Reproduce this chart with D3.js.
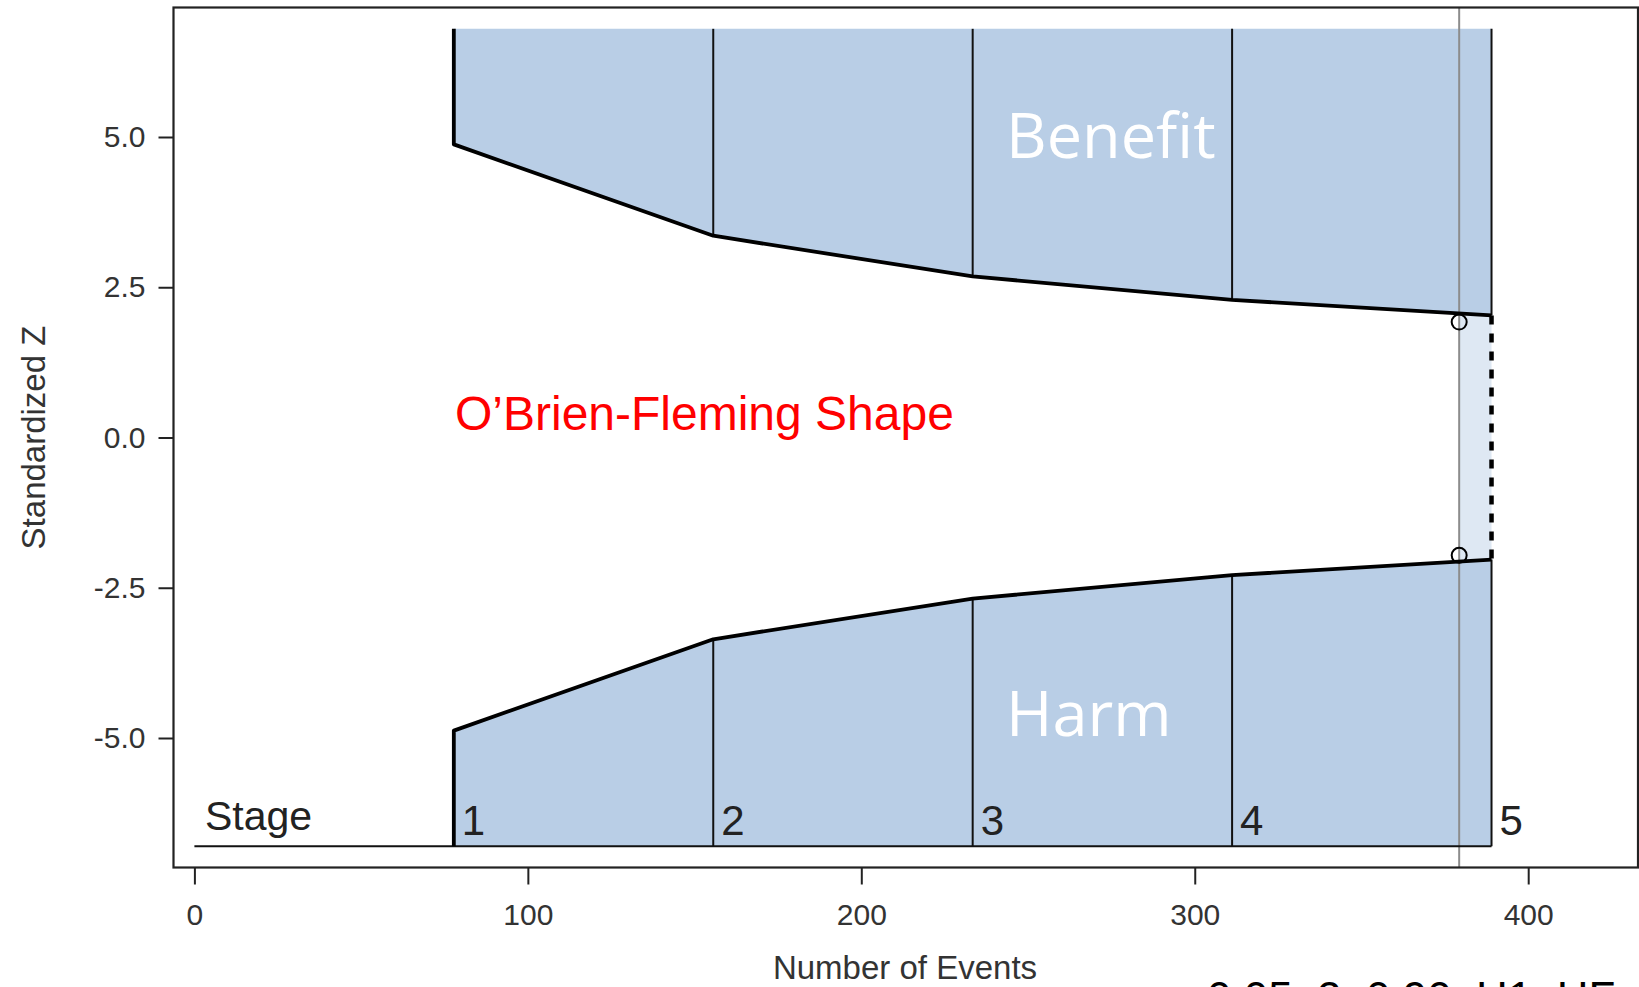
<!DOCTYPE html>
<html>
<head>
<meta charset="utf-8">
<script src="https://cdn.jsdelivr.net/npm/d3@7"></script>
<style>
    body { margin: 0; background: #fff; }
    svg { display: block; }
</style>
</head>
<body>
<div id="chart"></div>
<script>
// group sequential boundaries, O'Brien-Fleming shape, 5 looks
const stages = [1, 2, 3, 4, 5];
const stageEvents = [77.8, 155.6, 233.4, 311.2, 389];
const upperZ = [4.877, 3.357, 2.680, 2.290, 2.031];
const lowerZ = [-4.877, -3.357, -2.680, -2.290, -2.031];
const currentEvents = 379.3;
const observedZ = [1.92, -1.96];
const zLimit = 6.8;
const xTicks = [0, 100, 200, 300, 400];
const yTicks = [-5, -2.5, 0, 2.5, 5];
const bottomNote = "0.05, 2, 0.90, H1, HF";

var w = 1639, h = 987;
var frame = { left: 173.5, top: 7.5, right: 1638, bottom: 867.5 };
var axisFont = "'Liberation Sans', Arial, sans-serif";
var blue = "#b9cee6", paleBlue = "#dee8f3";

var svg = d3.select("#chart")
    .append("svg")
    .attr("width", w)
    .attr("height", h);

var x = d3.scaleLinear().domain([0, 400]).range([194.4, 1528.2]);
var y = d3.scaleLinear().domain([-5, 5]).range([738, 137]);

// piecewise boundaries, used to find the value at the current look
var upperAt = d3.scaleLinear().domain(stageEvents).range(upperZ);
var lowerAt = d3.scaleLinear().domain(stageEvents).range(lowerZ);

var line = d3.line().x(d => x(d[0])).y(d => y(d[1]));

var upperBound = stageEvents.map((e, i) => [e, upperZ[i]]);
var lowerBound = stageEvents.map((e, i) => [e, lowerZ[i]]);
var last = stageEvents.length - 1;

// filled rejection regions
svg.append("path")
    .attr("d", line([[stageEvents[0], zLimit], [stageEvents[last], zLimit]]
        .concat(upperBound.slice().reverse())) + "Z")
    .attr("fill", blue);

svg.append("path")
    .attr("d", line([[stageEvents[0], -zLimit], [stageEvents[last], -zLimit]]
        .concat(lowerBound.slice().reverse())) + "Z")
    .attr("fill", blue);

// pale band between current look and final look
svg.append("path")
    .attr("d", line([
        [currentEvents, upperAt(currentEvents)],
        [stageEvents[last], upperZ[last]],
        [stageEvents[last], lowerZ[last]],
        [currentEvents, lowerAt(currentEvents)]
    ]) + "Z")
    .attr("fill", paleBlue);

// current number of events reference line
svg.append("line")
    .attr("x1", x(currentEvents)).attr("x2", x(currentEvents))
    .attr("y1", frame.top).attr("y2", frame.bottom)
    .attr("stroke", "#8c8c8c")
    .attr("stroke-width", 2);

// thin stage lines (stages 2..5)
stageEvents.slice(1).forEach((e, j) => {
    var i = j + 1;
    svg.append("line")
        .attr("x1", x(e)).attr("x2", x(e))
        .attr("y1", y(zLimit)).attr("y2", y(upperZ[i]))
        .attr("stroke", "#111").attr("stroke-width", 2);
    svg.append("line")
        .attr("x1", x(e)).attr("x2", x(e))
        .attr("y1", y(lowerZ[i])).attr("y2", y(-zLimit))
        .attr("stroke", "#111").attr("stroke-width", 2);
});

// stage baseline
svg.append("line")
    .attr("x1", x(0)).attr("x2", x(stageEvents[last]))
    .attr("y1", y(-zLimit)).attr("y2", y(-zLimit))
    .attr("stroke", "#111").attr("stroke-width", 2);

// boundary lines
svg.append("path")
    .attr("d", line([[stageEvents[0], zLimit]].concat(upperBound)))
    .attr("fill", "none").attr("stroke", "#000")
    .attr("stroke-width", 3.8).attr("stroke-linejoin", "round");

svg.append("path")
    .attr("d", line([[stageEvents[0], -zLimit]].concat(lowerBound)))
    .attr("fill", "none").attr("stroke", "#000")
    .attr("stroke-width", 3.8).attr("stroke-linejoin", "round");

// dotted final look
svg.append("line")
    .attr("x1", x(stageEvents[last])).attr("x2", x(stageEvents[last]))
    .attr("y1", y(upperZ[last])).attr("y2", y(lowerZ[last]))
    .attr("stroke", "#000").attr("stroke-width", 4.5)
    .attr("stroke-dasharray", "9,9");

// observed z markers
svg.selectAll("circle.obs")
    .data(observedZ)
    .enter()
    .append("circle")
    .attr("class", "obs")
    .attr("cx", x(currentEvents))
    .attr("cy", d => y(d))
    .attr("r", 7.5)
    .attr("fill", "none")
    .attr("stroke", "#000")
    .attr("stroke-width", 2);

// stage labels
svg.append("text")
    .attr("x", 205).attr("y", 830)
    .style("font-family", axisFont).style("font-size", "41px")
    .attr("fill", "#222")
    .text("Stage");

svg.selectAll("text.stage")
    .data(stages)
    .enter()
    .append("text")
    .attr("class", "stage")
    .attr("x", (d, i) => x(stageEvents[i]) + 8)
    .attr("y", 835)
    .style("font-family", axisFont).style("font-size", "42px")
    .attr("fill", "#222")
    .text(d => d);

// frame
svg.append("rect")
    .attr("x", frame.left).attr("y", frame.top)
    .attr("width", frame.right - frame.left)
    .attr("height", frame.bottom - frame.top)
    .attr("fill", "none")
    .attr("stroke", "#222")
    .attr("stroke-width", 2.2);

// axes
var yAxis = d3.axisLeft(y)
    .tickValues(yTicks)
    .tickFormat(d => d.toFixed(1))
    .tickSize(15)
    .tickPadding(13);

var gy = svg.append("g")
    .attr("transform", `translate(${frame.left}, 0)`)
    .call(yAxis);

var xAxis = d3.axisBottom(x)
    .tickValues(xTicks)
    .tickFormat(d3.format("d"))
    .tickSize(17)
    .tickPadding(19);

var gx = svg.append("g")
    .attr("transform", `translate(0, ${frame.bottom})`)
    .call(xAxis);

[gx, gy].forEach(g => {
    g.select(".domain").remove();
    g.selectAll(".tick line").attr("stroke", "#222").attr("stroke-width", 2);
    g.selectAll(".tick text")
        .style("font-family", axisFont)
        .style("font-size", "30px")
        .attr("fill", "#333");
});

// axis titles
svg.append("text")
    .attr("text-anchor", "middle")
    .attr("transform", `translate(45, ${y(0)}) rotate(-90)`)
    .style("font-family", axisFont).style("font-size", "33px")
    .attr("fill", "#333")
    .text("Standardized Z");

svg.append("text")
    .attr("text-anchor", "middle")
    .attr("x", 905).attr("y", 979)
    .style("font-family", axisFont).style("font-size", "33px")
    .attr("fill", "#333")
    .text("Number of Events");

// annotations
svg.append("text")
    .attr("x", 1006).attr("y", 158)
    .style("font-family", "'Open Sans', sans-serif").style("font-size", "63px")
    .attr("fill", "#fff")
    .text("Benefit");

svg.append("text")
    .attr("x", 1006).attr("y", 736)
    .style("font-family", "'Open Sans', sans-serif").style("font-size", "63px")
    .attr("fill", "#fff")
    .text("Harm");

svg.append("text")
    .attr("x", 455).attr("y", 430)
    .style("font-family", axisFont).style("font-size", "48px")
    .attr("fill", "#ff0000")
    .text("O\u2019Brien-Fleming Shape");

// note partly below the page edge, as in the source slide
svg.append("text")
    .attr("x", 1207).attr("y", 1013)
    .style("font-family", axisFont).style("font-size", "44px")
    .attr("fill", "#000")
    .text(bottomNote);
</script>
</body>
</html>
